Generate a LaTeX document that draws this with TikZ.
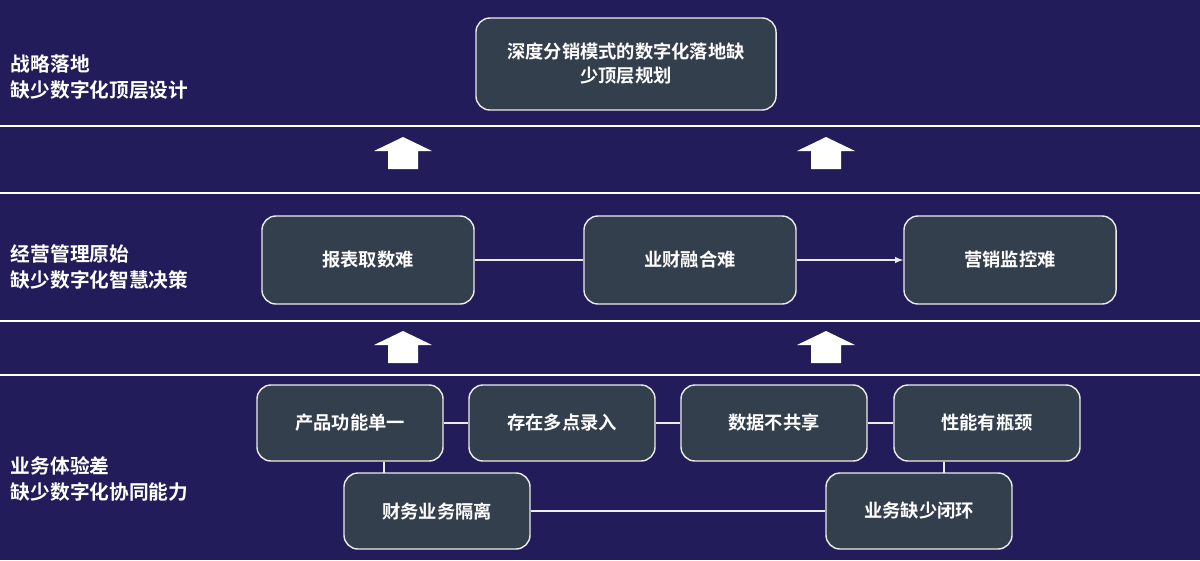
\documentclass[tikz,border=0pt]{standalone}
\usepackage{fontspec}
\setmainfont{Noto Sans CJK SC}[BoldFont={Noto Sans CJK SC Bold}]
\definecolor{bg}{HTML}{221C5A}
\definecolor{bx}{HTML}{343F4D}
\tikzset{
 box/.style={draw=white!85!gray, line width=1pt, fill=bx, rounded corners=10pt, text=white, font=\fontsize{13}{17}\selectfont\bfseries, align=center},
 lab/.style={text=white, font=\fontsize{14}{19}\selectfont\bfseries, align=left, anchor=west},
 sep/.style={white, line width=1.2pt},
 con/.style={white!85!gray, line width=1pt},
 upfill/.style={fill=white}
}
\newcommand{\uparr}[2]{\fill[upfill] (#1-29,#2+13) -- (#1,#2-1) -- (#1+29,#2+13) -- (#1+15,#2+13) -- (#1+15,#2+31) -- (#1-15,#2+31) -- (#1-15,#2+13) -- cycle;}
\begin{document}
\begin{tikzpicture}[x=0.025cm,y=-0.025cm]
\fill[bg] (0,0) rectangle (1200,560);
\useasboundingbox (0,0) rectangle (1200,560);
\foreach \y in {126,193,321,375} \draw[sep] (0,\y) -- (1200,\y);
\node[lab] (l1) at (6,77) {战略落地\\缺少数字化顶层设计};
\node[lab] (l2) at (6,267) {经营管理原始\\缺少数字化智慧决策};
\node[lab] (l3) at (6,479) {业务体验差\\缺少数字化协同能力};
\node[box, minimum width=7.5cm, minimum height=2.3cm, text width=7cm] (t) at (626,64) {深度分销模式的数字化落地缺\\少顶层规划};
\node[box, minimum width=5.3cm, minimum height=2.2cm] (a) at (368,260) {报表取数难};
\node[box, minimum width=5.3cm, minimum height=2.2cm] (b) at (690,260) {业财融合难};
\node[box, minimum width=5.3cm, minimum height=2.2cm] (c) at (1010,260) {营销监控难};
\draw[con] (a) -- (b);
\draw[con,-latex] (b) -- (c);
\foreach \n/\x/\t in {p1/350/产品功能单一,p2/562/存在多点录入,p3/774/数据不共享,p4/987/性能有瓶颈}
  \node[box, minimum width=4.65cm, minimum height=1.9cm] (\n) at (\x,423) {\t};
\node[box, minimum width=4.65cm, minimum height=1.9cm] (q1) at (437,511) {财务业务隔离};
\node[box, minimum width=4.65cm, minimum height=1.9cm] (q2) at (919,511) {业务缺少闭环};
\draw[con] (p1) -- (p2); \draw[con] (p2) -- (p3); \draw[con] (p3) -- (p4);
\draw[con] (q1) -- (q2);
\draw[con] (384,462) -- (384,473);
\draw[con] (944,462) -- (944,473);
\uparr{403}{138}
\uparr{826}{138}
\uparr{403}{332}
\uparr{826}{332}
\end{tikzpicture}
\end{document}
